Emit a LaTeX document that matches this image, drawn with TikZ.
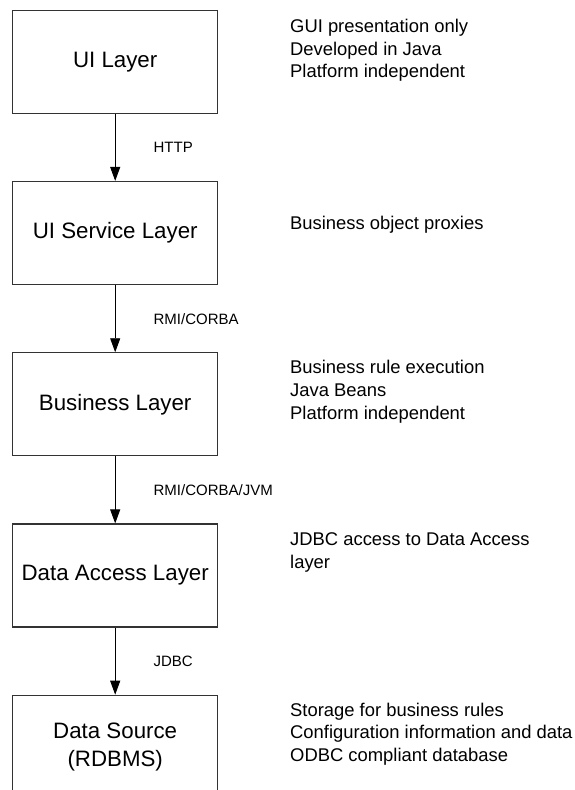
\documentclass[tikz,border=0pt]{standalone}
\usepackage{fontspec}
\setmainfont{Liberation Sans}
\usetikzlibrary{arrows.meta}
\begin{document}
\begin{tikzpicture}[x=1pt,y=-1pt,
  layer/.style={draw=black!80, line width=1.2pt, minimum width=205pt, minimum height=103pt,
     inner sep=0pt, align=center, font=\fontsize{22.3}{28}\selectfont},
  conn/.style={draw=black, line width=0.9pt, -{Triangle[length=14pt,width=10pt]}},
  lbl/.style={inner sep=0pt, font=\fontsize{15}{18}\selectfont},
  note/.style={inner sep=0pt, anchor=base west, align=left, font=\fontsize{18.4}{22.6}\selectfont}]
\useasboundingbox (0,0) rectangle (574,790);
\fill[white] (0,0) rectangle (574,790);
\node[layer] (ui) at (115.2,62.2) {UI Layer};
\node[layer] (uis) at (115.2,233) {UI Service Layer};
\node[layer] (bus) at (115.2,404.35) {Business Layer};
\node[layer] (dal) at (115.2,575.5) {Data Access Layer};
\node[layer] (ds) at (115.2,746.8) {Data Source\\(RDBMS)};
\draw[conn] (ui) -- node[lbl, midway, right=38pt] (l1) {HTTP} (uis);
\draw[conn] (uis) -- node[lbl, midway, right=38pt] (l2) {RMI/CORBA} (bus);
\draw[conn] (bus) -- node[lbl, midway, right=38pt] (l3) {RMI/CORBA/JVM} (dal);
\draw[conn] (dal) -- node[lbl, midway, right=38pt] (l4) {JDBC} (ds);
\node[note] (n1) at (290,77.9) {GUI presentation only\\Developed in Java\\Platform independent};
\node[note] (n2) at (290,229) {Business object proxies};
\node[note] (n3) at (290,419) {Business rule execution\\Java Beans\\Platform independent};
\node[note] (n4) at (290,568.5) {JDBC access to Data Access\\layer};
\node[note] (n5) at (290,761.5) {Storage for business rules\\Configuration information and data\\ODBC compliant database};
\end{tikzpicture}
\end{document}
